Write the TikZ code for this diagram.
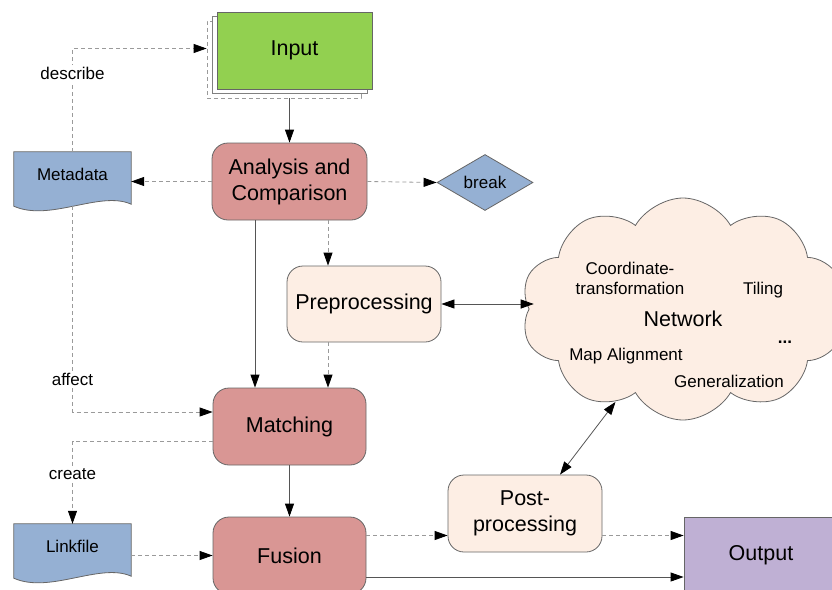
\documentclass[tikz,border=0pt]{standalone}
\usepackage{fontspec}
\setmainfont{Liberation Sans}
\usetikzlibrary{arrows.meta,shapes.geometric,shapes.symbols,calc,backgrounds}
\definecolor{cgreen}{HTML}{92D050}
\definecolor{cred}{HTML}{D99694}
\definecolor{cblue}{HTML}{95B0D3}
\definecolor{cpeach}{HTML}{FDEEE4}
\definecolor{cpurple}{HTML}{BFB0D4}
\definecolor{cborder}{HTML}{666666}
\definecolor{cdash}{HTML}{9A9A9A}
\definecolor{cline}{HTML}{555555}
\begin{document}
\begin{tikzpicture}[x=1pt,y=-1pt,
 big/.style={font=\fontsize{21.5}{26}\selectfont},
 small/.style={font=\fontsize{17}{20}\selectfont},
 box/.style={draw=cborder, line width=0.8pt, minimum width=155pt, minimum height=77pt, inner sep=0pt, align=center, big},
 rbox/.style={box, rounded corners=16pt},
 tip/.style={-{Triangle[length=13pt,width=9pt,color=black]}},
 tiptwo/.style={{Triangle[length=13pt,width=9pt,color=black]}-{Triangle[length=13pt,width=9pt,color=black]}},
 dline/.style={draw=cdash, dash pattern=on 4pt off 3pt, line width=0.8pt},
 sline/.style={draw=cline, line width=0.8pt},
 lbl/.style={small, fill=white, inner sep=2pt},
 docshape/.style={draw=cborder, fill=cblue, line width=0.8pt},
 doc/.style={minimum width=117pt, minimum height=44pt, inner sep=0pt, small},
]
\clip (0,0) rectangle (832,589);

% Input stack
\node[box, draw=cdash, dash pattern=on 4pt off 3pt, fill=white, minimum width=154pt] (in3) at (284,59.5) {};
\node[box, draw=gray, fill=white] (in2) at (289.5,54.5) {};
\node[box, fill=cgreen] (input) at (294.5,50.5) {Input};

% main boxes
\node[rbox, fill=cred] (ana) at (289.5,181.5) {Analysis and\\Comparison};
\node[rbox, fill=cpeach, minimum width=154pt, minimum height=76pt] (pre) at (364,304) {Preprocessing};
\node[rbox, fill=cred, minimum width=153pt] (mat) at (289.5,426.5) {Matching};
\node[rbox, fill=cred, minimum width=153pt] (fus) at (289.5,555.5) {Fusion};
\node[rbox, fill=cpeach, minimum width=154pt] (post) at (525,513.5) {Post-\\processing};
\node[box, fill=cpurple, minimum width=154pt] (out) at (761,555.5) {Output};

\node[diamond, draw=cborder, line width=0.8pt, fill=cblue, minimum width=96pt, minimum height=56pt, inner sep=0pt, small] (brk) at (485,182.5) {break};

% documents
\node[doc] (meta) at (72.5,174) {Metadata};
\node[doc] (link) at (72.5,546) {Linkfile};
\begin{scope}[on background layer]
\foreach \d in {meta,link}{
 \draw[docshape] (\d.north west) -- (\d.north east) -- ([yshift=-8pt]\d.south east)
   .. controls ([xshift=-31pt,yshift=6pt]\d.south east) and ([xshift=36pt,yshift=-26pt]\d.south west)
   .. ([yshift=-10pt]\d.south west) -- cycle;
}
\end{scope}

% cloud
\node[cloud, cloud puffs=10, cloud puff arc=120, cloud ignores aspect, minimum width=324pt, minimum height=222pt, draw=cborder, line width=0.8pt, fill=cpeach, inner sep=0pt] (net) at (683,309) {};
\node[big] (nettxt) at (683,319) {Network};
\node[small, align=center, font=\fontsize{17}{20}\selectfont] (coord) at (630,278) {Coordinate-\\transformation};
\node[small] (tiling) at (763,290) {Tiling};
\node[small] (mapal) at (626,356) {Map Alignment};
\node[small] (gen) at (729,381) {Generalization};
\node[small, font=\bfseries\fontsize{17}{20}\selectfont] (dots) at (785,342) {...};

% connectors
\draw[sline, tip] (ana.north |- in3.south) -- (ana.north);
\draw[dline, tip] (ana.west) -- (ana.west -| meta.east);
\draw[dline, tip] (ana.east) -- (brk.west);
\draw[dline, tip] ([xshift=38.5pt]ana.south) -- ([xshift=38.5pt]ana.south |- pre.north);
\draw[sline, tip] ([xshift=-34.5pt]ana.south) -- ([xshift=-34.5pt]ana.south |- mat.north);
\draw[dline, tip] ([xshift=-36pt]pre.south) -- ([xshift=-36pt]pre.south |- mat.north);
\draw[sline, tiptwo] (pre.east) -- (pre.east -| {$(net.west)+(5,0)$});
\draw[sline, tip] (mat.south) -- (fus.north);
\draw[dline, tip] (meta.north) |- ([yshift=2pt]input.west -| in3.west) node[lbl, pos=0.38] (ldesc) {describe};
\draw[dline, tip] ([yshift=-10pt]meta.south) |- ([yshift=14.5pt]mat.west) node[lbl, pos=0.42] (laff) {affect};
\draw[dline, tip] ([yshift=-14.5pt]mat.west) -| (link.north) node[lbl, pos=0.70] (lcre) {create};
\draw[dline, tip] (fus.west -| link.east) -- (fus.west);
\draw[dline, tip] ([yshift=20pt]fus.east) -- ([yshift=20pt]fus.east -| post.west);
\draw[dline, tip] ([yshift=20pt]fus.east -| post.east) -- ([yshift=20pt]fus.east -| out.west);
\draw[sline, tip] ([yshift=-21.5pt]fus.east) -- ([yshift=-21.5pt]fus.east -| out.west);
\draw[sline, tiptwo] ([xshift=35pt]post.north) -- (net.234);
\end{tikzpicture}
\end{document}
